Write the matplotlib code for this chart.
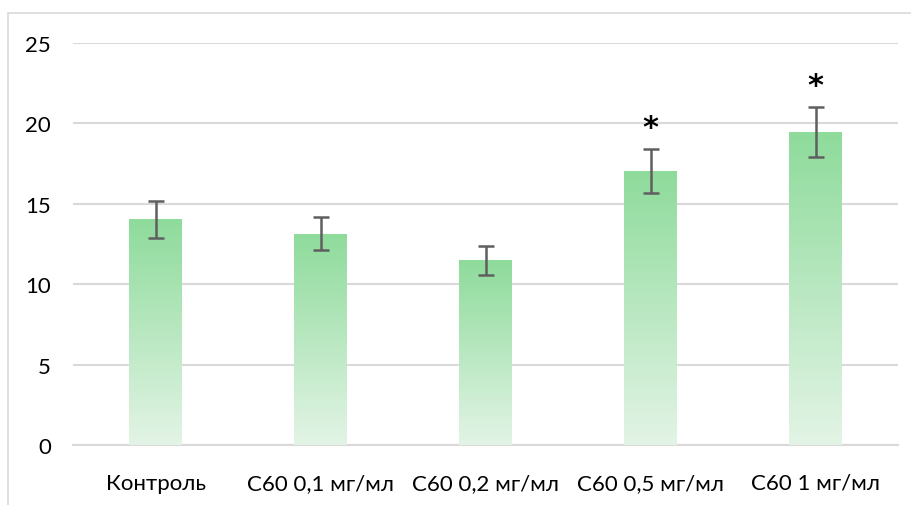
import matplotlib
matplotlib.use("Agg")
import matplotlib.pyplot as plt
import numpy as np
from matplotlib.colors import LinearSegmentedColormap
from matplotlib.patches import Rectangle

categories = ["Контроль", "С60 0,1 мг/мл", "С60 0,2 мг/мл", "С60 0,5 мг/мл", "С60 1 мг/мл"]
values = [14.05, 13.15, 11.5, 17.05, 19.45]
errors = [1.15, 1.05, 0.9, 1.38, 1.57]
significant = [False, False, False, True, True]
yticks = [0, 5, 10, 15, 20, 25]

plt.rcParams["font.family"] = ["Lato", "DejaVu Sans"]

fig = plt.figure(figsize=(9.12, 5.06), dpi=100)
ax = fig.add_axes([73 / 912, 1 - 446 / 506, 825 / 912, (446 - 44) / 506])

# chart frame
fig.patches.append(Rectangle((8 / 912, -0.1), 1.2, (506 - 14) / 506 + 0.1,
                             transform=fig.transFigure, fill=False,
                             edgecolor="#D9D9D9", linewidth=1.2, zorder=0))

x = np.arange(len(categories))
width = 0.32
cmap = LinearSegmentedColormap.from_list("grn", ["#E3F4E6", "#8EDB9B"])
grad = np.linspace(0, 1, 256).reshape(-1, 1)

bars = ax.bar(x, values, width=width, facecolor="none", edgecolor="none", zorder=3)
for b in bars:
    x0, y0 = b.get_x(), b.get_y()
    w, h = b.get_width(), b.get_height()
    im = ax.imshow(grad, cmap=cmap, origin="lower", aspect="auto",
                   extent=[x0, x0 + w, y0, y0 + h], zorder=3, interpolation="bicubic")
    im.set_clip_path(b)

ax.errorbar(x, values, yerr=errors, fmt="none", ecolor="#5F5F5F",
            elinewidth=1.8, capsize=6, capthick=1.8, zorder=4)

for xi, v, e, s in zip(x, values, errors, significant):
    if s:
        ax.text(xi, v + e + 1.33, "*", ha="center", va="center", fontsize=22,
                fontweight="bold", color="black", zorder=5, family="DejaVu Sans")

ax.set_xlim(-0.5, len(categories) - 0.5)
ax.set_ylim(0, 25)
ax.set_yticks(yticks)
ax.set_xticks(x)
ax.set_xticklabels(categories)
ax.yaxis.grid(True, color="#D9D9D9", linewidth=1.5, zorder=0)
ax.set_axisbelow(True)
for sp in ["top", "right", "left"]:
    ax.spines[sp].set_visible(False)
ax.spines["bottom"].set_color("#D9D9D9")
ax.spines["bottom"].set_linewidth(1.5)
ax.tick_params(axis="both", length=0, labelsize=16, colors="black")
ax.tick_params(axis="y", pad=16)
ax.tick_params(axis="x", pad=20)

fig.savefig("out.png", dpi=100)
